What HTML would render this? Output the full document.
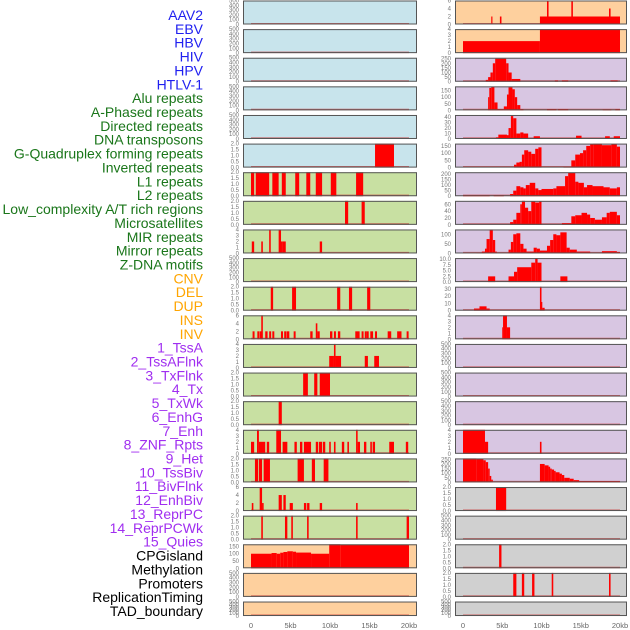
<!DOCTYPE html>
<html><head><meta charset="utf-8"><style>
html,body{margin:0;padding:0;background:#fff;}
body{width:630px;height:630px;overflow:hidden;position:relative;font-family:"Liberation Sans",sans-serif;}
svg{position:absolute;left:0;top:0;}
</style></head><body>
<svg id="chart" width="630" height="630"></svg>
<script>
const labels=["AAV2","EBV","HBV","HIV","HPV","HTLV-1","Alu repeats","A-Phased repeats","Directed repeats","DNA transposons","G-Quadruplex forming repeats","Inverted repeats","L1 repeats","L2 repeats","Low_complexity A/T rich regions","Microsatellites","MIR repeats","Mirror repeats","Z-DNA motifs","CNV","DEL","DUP","INS","INV","1_TssA","2_TssAFlnk","3_TxFlnk","4_Tx","5_TxWk","6_EnhG","7_Enh","8_ZNF_Rpts","9_Het","10_TssBiv","11_BivFlnk","12_EnhBiv","13_ReprPC","14_ReprPCWk","15_Quies","CPGisland","Methylation","Promoters","ReplicationTiming","TAD_boundary"];
const labelGroups=[6,13,5,15,5];
const groupColors=["#2020f0","#1a761a","#ffa500","#a02ef0","#000000"];
const xTicks=[0,5,10,15,20];
const xTickLabels=["0","5kb","10kb","15kb","20kb"];
// left column data: [startKb, endKb, value]
const leftMax=[500,500,500,500,500,2,2,2,4,500,2,6,4,2,2,4,2,6,2,165,500,500];
const leftBg=["#c8e4ec","#c8e4ec","#c8e4ec","#c8e4ec","#c8e4ec","#c8e4ec","#c8e0a2","#c8e0a2","#c8e0a2","#c8e0a2","#c8e0a2","#c8e0a2","#c8e0a2","#c8e0a2","#c8e0a2","#c8e0a2","#c8e0a2","#c8e0a2","#c8e0a2","#fed09e","#fed09e","#fed09e"];
const left5=[[15.7,18.1,2]];
const left6=[[0,0.4,2],[0.6,2.3,2],[2.7,3.5,2],[3.9,4.4,2],[5.6,6.1,2],[7,7.5,2],[8.2,9,2],[10.1,10.8,2],[13.3,14.2,2]];
const left7=[[11.9,12.3,2],[14,14.4,2]];
const left8=[[0.1,0.4,2],[1.3,1.5,2],[2.3,2.5,4],[3.5,3.8,4],[3.8,4.0,2],[4.0,4.4,2],[8.7,9,2]];
const left10=[[2.5,2.8,2],[5.2,5.7,2],[10.9,11.3,2],[12.4,12.8,2],[14.7,15.1,2]];
const left11=[[0.2,0.45,2],[0.8,1.05,2],[1.1,1.35,2],[1.3,1.5,6],[1.8,2.1,2],[2.3,2.55,2],[2.7,2.95,2],[3.8,4.05,2],[4.2,4.45,2],[4.5,4.85,2],[5.4,5.65,2],[7.5,7.8,2],[8.2,8.4,4],[8.4,8.7,2],[10,10.3,2],[10.5,10.75,2],[11,11.3,2],[13.2,13.75,2],[14,14.25,2],[14.4,14.6,2],[14.6,14.9,2],[15.1,15.45,2],[15.7,15.95,2],[17.3,17.75,2],[18.5,19.05,2],[19.7,19.95,2]];
const left12=[[9.9,10.5,2],[10.5,10.7,4],[10.7,11.4,2],[14.4,14.8,2],[15.6,16.2,2]];
const left13=[[6.6,7.2,2],[8,8.4,2],[8.7,10,2]];
const left14=[[3.5,3.9,2]];
const left15=[[0,0.4,2],[0.76,1,4],[1,1.8,2],[2,2.3,2],[3.2,3.8,4],[4,4.6,2],[5.5,5.8,2],[6.2,6.5,2],[6.7,7.6,2],[8.2,8.5,2],[8.6,9,2],[9.1,9.4,2],[9.9,10.1,2],[10.5,10.7,2],[11.5,11.8,2],[12.2,12.4,2],[13.3,13.5,4],[13.5,13.8,2],[14.3,14.6,2],[15.1,15.3,2],[15.4,15.7,2],[17.5,18.1,2],[19.6,19.9,2]];
const left16=[[0.5,0.9,2],[1,1.4,2],[1.6,2.4,2],[5.9,6.7,2],[7.7,8.1,2],[9.2,9.8,2]];
const left17=[[0.1,0.3,2],[1.1,1.4,6],[1.4,1.6,2],[3.5,3.9,4],[4.1,4.4,4],[4.9,5.3,2],[6.7,7,2],[7.1,7.4,2],[8.7,9,2],[13.3,13.5,2]];
const left18=[[1.3,1.5,2],[4.3,4.6,2],[5.1,5.3,2],[7.1,7.3,2],[13.3,13.5,2],[19.7,20,2]];
const left19=[[0,2.6,100],[2.6,3.25,105],[3.25,3.7,100],[3.7,4.1,107],[4.1,4.6,112],[4.6,5.3,117],[5.3,5.7,114],[5.7,7.6,108],[7.6,9.9,100],[9.9,11.3,165],[11.3,20,162]];
const leftData=[[],[],[],[],[],left5,left6,left7,left8,[],left10,left11,left12,left13,left14,left15,left16,left17,left18,left19,[],[]];
// right column data
const rightMax=[6,4,260,182,44,166,215,70,125,10.5,33,4,500,500,500,4,260,2,500,2,2,500];
const rightBg=["#fed09e","#fed09e","#d8c6e2","#d8c6e2","#d8c6e2","#d8c6e2","#d8c6e2","#d8c6e2","#d8c6e2","#d8c6e2","#d8c6e2","#d8c6e2","#d8c6e2","#d8c6e2","#d8c6e2","#d8c6e2","#d8c6e2","#d0d0d0","#d0d0d0","#d0d0d0","#d0d0d0","#d0d0d0"];
const right0=[[3.6,3.75,2],[4.7,4.9,2],[9.8,20,2],[10.7,10.9,6],[13.8,14,6],[18.6,18.8,4]];
const right1=[[0,9.8,2],[9.8,20,4]];
const right2=[[2.9,3.2,20],[3.2,3.5,50],[3.5,3.8,100],[3.8,4.1,200],[4.1,5.5,250],[5.5,5.8,200],[5.8,6.2,100],[6.2,7.3,30],[11.7,12.1,15],[12.6,13.4,15],[18.8,19.7,15]];
const right3=[[3.2,3.35,100],[3.35,3.6,170],[3.6,4.0,180],[4.0,4.4,60],[4.4,5.2,10],[5.2,5.6,30],[5.6,5.8,120],[5.8,6.3,175],[6.3,6.6,160],[6.6,6.9,100],[6.9,7.3,40],[7.3,7.7,10],[10.7,11.9,10],[12.1,13.4,10],[17.8,18.9,8],[19.4,20,10]];
const right4=[[4.2,4.5,3],[4.5,5.6,8],[5.6,5.8,7],[5.8,6.1,20],[6.1,6.4,42],[6.4,6.8,38],[6.8,7.3,10],[7.3,7.7,12],[7.7,8.3,10],[9,9.8,5],[14.4,15.1,6],[18.1,18.7,5],[19.2,20,5]];
const right5=[[6.5,6.8,20],[6.8,7.2,35],[7.2,7.5,40],[7.5,7.8,90],[7.8,8.3,120],[8.3,8.7,110],[8.7,9.2,95],[9.2,9.6,130],[9.6,10,140],[12.8,13.8,5],[13.8,14.3,50],[14.3,14.9,90],[14.9,15.3,100],[15.3,15.7,120],[15.7,16.2,150],[16.2,16.6,160],[16.6,17.7,165],[17.7,18.9,155],[18.9,19.6,160],[19.6,20,145]];
const right6=[[0,3.4,10],[3.9,5.2,10],[6,6.4,20],[6.4,6.8,50],[6.8,7.3,90],[7.3,7.7,80],[7.7,8,70],[8,8.5,100],[8.5,9.2,120],[9.2,9.6,70],[9.6,10,55],[10,11.5,65],[11.5,11.9,70],[11.9,13,90],[13,13.4,180],[13.4,14.3,210],[14.3,14.7,130],[14.7,15.4,120],[15.4,15.8,80],[15.8,16.5,100],[16.5,17.9,90],[17.9,18.7,80],[18.7,19.6,70],[19.6,20,80]];
const right7=[[6,6.4,8],[6.4,6.8,15],[6.8,7.3,35],[7.3,7.5,60],[7.5,7.9,70],[7.9,8.3,50],[8.3,8.7,40],[8.7,9.2,68],[9.2,9.7,65],[9.7,10,68],[12.6,13.8,5],[13.8,14.3,25],[14.3,15.1,28],[15.1,15.8,35],[15.8,16.2,30],[16.2,16.8,20],[16.8,17.7,15],[17.7,18.3,22],[18.3,18.7,35],[18.7,19.6,38],[19.6,20,28]];
const right8=[[1.7,2.4,3],[2.4,2.8,10],[2.8,3,25],[3,3.4,75],[3.4,3.8,125],[3.8,4.1,70],[4.1,4.3,10],[5.8,6.1,20],[6.1,6.4,60],[6.4,6.8,100],[6.8,7.3,105],[7.3,7.7,50],[7.7,8.1,25],[8.1,9,10],[9,9.4,30],[9.4,9.8,25],[9.8,10.7,15],[10.7,11.1,40],[11.1,11.5,70],[11.5,11.9,100],[11.9,12.4,95],[12.4,13.2,110],[13.2,13.6,30],[13.6,14.5,20],[14.5,16.2,10],[17.7,19.6,12],[19.6,20,8]];
const right9=[[3.2,4.1,2.5],[5.8,6.5,2.5],[6.5,6.9,4.5],[6.9,8.7,6.5],[8.7,9.2,8.5],[9.2,9.5,10.5],[9.5,10,8.5],[12.4,13.3,2.5]];
const right10=[[1.4,2.1,3],[2.1,3,6],[3,3.4,3],[9.8,10,33],[10,10.1,12],[10.1,10.4,4]];
const right11=[[5,5.1,2],[5.1,5.6,4],[5.6,6,2]];
const right15=[[0,2.8,4],[2.8,3.2,2],[9.8,10,2]];
const right16=[[0,1.7,260],[1.7,2.6,255],[2.6,2.9,240],[2.9,3.2,220],[3.2,3.4,150],[3.4,3.6,70],[3.6,3.8,30],[9.8,10.4,200],[10.4,10.9,185],[10.9,11.1,170],[11.1,11.3,150],[11.3,11.6,140],[11.6,11.8,125],[11.8,12.3,110],[12.3,12.6,95],[12.6,12.9,80],[12.9,13.6,50],[13.6,14.1,40],[14.1,14.8,25],[14.8,20,15]];
const right17=[[4.2,5.5,2]];
const right19=[[4.6,4.9,2]];
const right20=[[6.4,6.8,2],[7.5,7.8,2],[8.8,9.1,2],[11.3,11.5,2],[18.6,18.8,2]];
const rightData=[right0,right1,right2,right3,right4,right5,right6,right7,right8,right9,right10,right11,[],[],[],right15,right16,right17,[],right19,right20,[]];

const NS="http://www.w3.org/2000/svg";
const svg=document.getElementById('chart');
function mk(tag,attrs,parent){const e=document.createElementNS(NS,tag);for(const k in attrs)e.setAttribute(k,attrs[k]);(parent||svg).appendChild(e);return e;}

// labels
let li=0;
labelGroups.forEach((n,g)=>{for(let j=0;j<n;j++){
  const t=mk('text',{x:203,y:15+li*13.86+5,'text-anchor':'end','font-size':'14',fill:groupColors[g]});
  t.textContent=labels[li];
  
  
  li++;}});

const cols=[{x0:243,x1:417,d0:251,d1:409,tx:239,max:leftMax,bg:leftBg,data:leftData,name:'left'},
            {x0:455,x1:627,d0:463,d1:620,tx:451,max:rightMax,bg:rightBg,data:rightData,name:'right'}];
function rowTop(i){return i*28.62+0.5;}
function rowH(i){return i===21?14.5:24;}
function ticksFor(m){
  if(m===500) return [0,100,200,300,400,500];
  if(m===2) return [0,0.5,1,1.5,2];
  if(m===4) return [0,1,2,3,4];
  if(m===6) return [0,2,4,6];
  if(m===10.5) return [0,2.5,5,7.5,10];
  if(m===33) return [0,10,20,30];
  if(m===44) return [0,10,20,30,40];
  if(m===70) return [0,20,40,60];
  if(m===125) return [0,50,100];
  if(m===215) return [0,50,100,150,200];
  if(m===260) return [0,50,100,150,200,250];
  return [0,50,100,150];
}
function fmt(v,m){return (m===2)?v.toFixed(1):(m===10.5?v.toFixed(1):String(v));}

cols.forEach(c=>{
  const xs=k=>c.d0+(c.d1-c.d0)*k/20;
  for(let i=0;i<22;i++){
    const top=rowTop(i),h=rowH(i),m=c.max[i];
    const ys=v=>top+h-h*v/m;
    const g=mk('g',{});
    
    
    const bg=mk('rect',{x:c.x0,y:top,width:c.x1-c.x0,height:h,fill:c.bg[i]},g);
    
    
    const base=mk('line',{x1:xs(0),x2:xs(20),y1:top+h-0.8,y2:top+h-0.8,stroke:'#c83030','stroke-width':1.5,'stroke-opacity':0.7},g);
    
    
    c.data[i].forEach(s=>{
      const r=mk('rect',{x:xs(s[0]),y:ys(s[2]),width:Math.max(0.8,xs(s[1])-xs(s[0])),height:top+h-ys(s[2]),fill:'#ff0000'},g);
      
      
    });
    const bd=mk('rect',{x:c.x0+0.5,y:top+0.5,width:c.x1-c.x0-1,height:h-1,fill:'none',stroke:'#555','stroke-width':1},g);
    
    
    ticksFor(m).forEach(v=>{
      const t=mk('text',{x:c.tx,y:ys(v)+2,'text-anchor':'end','font-size':'6',fill:'#777'},g);
      t.textContent=fmt(v,m);
      
      
    });
  }
  xTicks.forEach((k,j)=>{
    const t=mk('text',{x:xs(k),y:628,'text-anchor':'middle','font-size':'7.5',fill:'#666'});
    t.textContent=xTickLabels[j];
    
    
  });
});
</script>
</body></html>
